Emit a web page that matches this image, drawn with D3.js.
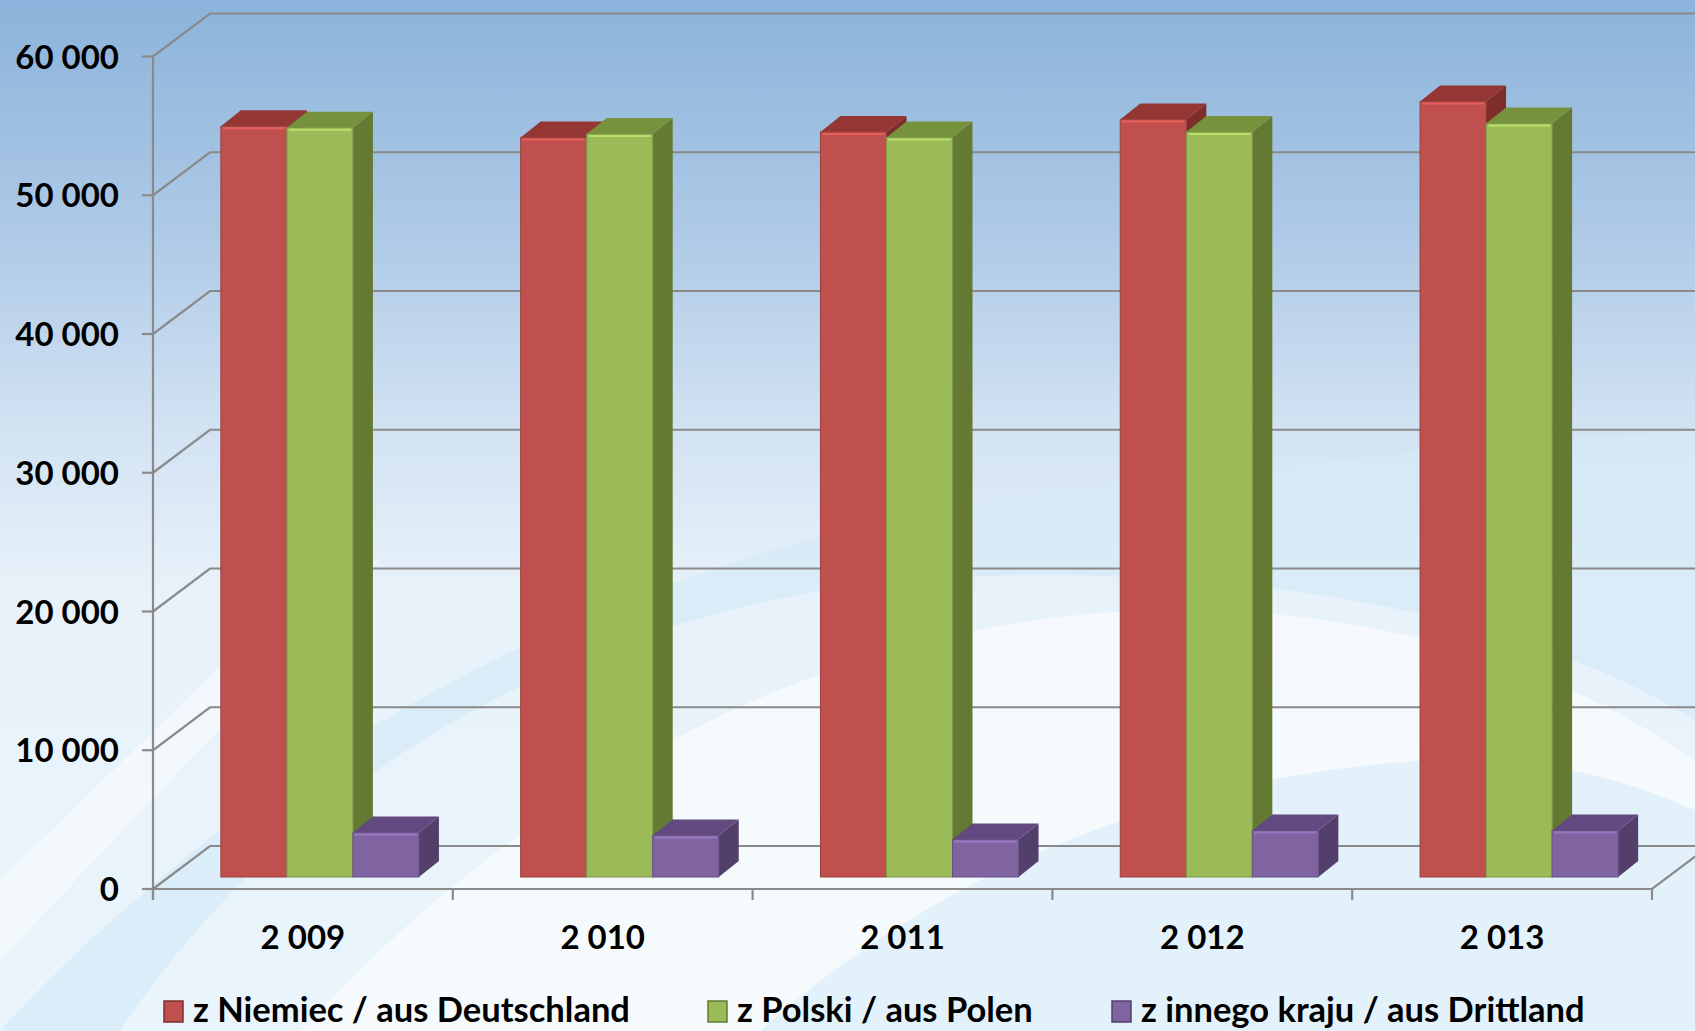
<!DOCTYPE html>
<html>
    <script src="https://d3js.org/d3.v7.min.js">
    </script>
    <style>
        body {margin: 0; overflow: hidden;}
        text {font-family: Lato, "Open Sans", sans-serif; font-weight: bold; fill: #000;}
    </style>
    <body onload="init()">
        <div id="chart_div">
        </div>

        <script>
            // values
            var years = [2009, 2010, 2011, 2012, 2013];
            var seriesNames = ["z Niemiec / aus Deutschland", "z Polski / aus Polen", "z innego kraju / aus Drittland"];
            var fromGermany = [54100, 53300, 53700, 54600, 55900];
            var fromPoland = [54000, 53550, 53300, 53700, 54300];
            var fromOther = [3200, 3000, 2700, 3350, 3350];
            var yTicks = [0, 10000, 20000, 30000, 40000, 50000, 60000];

            var width = 1695;
            var height = 1031;

            // front plane of the plot
            var plot = {left: 153, right: 1652, bottom: 889, top: 56.5};
            // depth of the walls and of the bars (3D look)
            var wall = {dx: 57, dy: -43};
            var barShift = {dx: 17, dy: -12};
            var barDepth = {dx: 20, dy: -16};

            var faces = [
                {front: "#c0504d", top: "#943634", side: "#7f2d2b"},
                {front: "#9bbb59", top: "#77923c", side: "#647a32"},
                {front: "#8064a2", top: "#62497f", side: "#52406b"}
            ];

            var locale = d3.formatLocale({decimal: ",", thousands: " ", grouping: [3], currency: ["", ""]});
            var fmt = locale.format(",");

            function init()
            {
                let svg = d3.select("#chart_div").append("svg")
                    .attr("width", width)
                    .attr("height", height);

                drawBackground(svg);

                let series = [fromGermany, fromPoland, fromOther];

                let x_scale = d3.scaleBand()
                    .domain(years)
                    .range([plot.left, plot.right]);

                let x_inner = d3.scaleBand()
                    .domain(d3.range(seriesNames.length))
                    .range([0, x_scale.bandwidth()])
                    .paddingInner(0)
                    .paddingOuter(0.77);

                let y_scale = d3.scaleLinear()
                    .domain([0, 60000])
                    .range([plot.bottom, plot.top]);

                // gridlines: side wall diagonal + back wall line
                let grid = svg.append("g")
                    .attr("stroke", "#8a8a8a")
                    .attr("stroke-width", 2.2)
                    .attr("fill", "none");

                grid.selectAll(".back").data(yTicks).enter().append("path")
                    .attr("d", function(d){
                        let y = y_scale(d);
                        return "M" + plot.left + "," + y + "L" + (plot.left + wall.dx) + "," + (y + wall.dy) + "H" + width;
                    });

                // y axis line and ticks
                grid.append("line")
                    .attr("x1", plot.left).attr("x2", plot.left)
                    .attr("y1", y_scale(60000)).attr("y2", y_scale(0) + 11);
                grid.selectAll(".ytick").data(yTicks).enter().append("line")
                    .attr("x1", plot.left - 11).attr("x2", plot.left)
                    .attr("y1", function(d){ return y_scale(d); })
                    .attr("y2", function(d){ return y_scale(d); });

                // floor front edge and right side
                grid.append("path")
                    .attr("d", "M" + plot.left + "," + y_scale(0) + "H" + plot.right + "l" + wall.dx + "," + wall.dy);

                let boundaries = years.map(function(d){ return x_scale(d); }).concat([plot.right]);
                grid.selectAll(".xtick").data(boundaries).enter().append("line")
                    .attr("x1", function(d){ return d; }).attr("x2", function(d){ return d; })
                    .attr("y1", y_scale(0)).attr("y2", y_scale(0) + 11);

                svg.append("g").selectAll("text").data(yTicks).enter().append("text")
                    .attr("x", 119)
                    .attr("y", function(d){ return y_scale(d) + 12; })
                    .attr("text-anchor", "end")
                    .attr("font-size", 33)
                    .text(function(d){ return fmt(d); });

                svg.append("g").selectAll("text").data(years).enter().append("text")
                    .attr("x", function(d){ return x_scale(d) + x_scale.bandwidth() / 2; })
                    .attr("y", 949)
                    .attr("text-anchor", "middle")
                    .attr("font-size", 33)
                    .text(function(d){ return fmt(d); });

                // bars
                let bars = svg.append("g");
                years.forEach(function(year, i)
                {
                    series.forEach(function(values, s)
                    {
                        let x = x_scale(year) + x_inner(s) + barShift.dx;
                        let w = x_inner.bandwidth();
                        let y0 = y_scale(0) + barShift.dy;
                        let y1 = y_scale(values[i]) + barShift.dy;
                        drawBar(bars, x, w, y0, y1, faces[s]);
                    });
                });

                // legend
                let legendX = [164, 708, 1112];
                let legend = svg.append("g").selectAll("g").data(seriesNames).enter().append("g")
                    .attr("transform", function(d, i){ return "translate(" + legendX[i] + ",1001)"; });
                legend.append("rect")
                    .attr("width", 19).attr("height", 21)
                    .attr("fill", function(d, i){ return faces[i].front; })
                    .attr("stroke", function(d, i){ return faces[i].side; })
                    .attr("stroke-width", 1.5);
                legend.append("text")
                    .attr("x", 29).attr("y", 21)
                    .attr("font-size", 34.5)
                    .text(function(d){ return d; });
            }

            function drawBar(g, x, w, y0, y1, c)
            {
                let dx = barDepth.dx, dy = barDepth.dy;
                let b = g.append("g");
                // right side
                b.append("path")
                    .attr("fill", c.side)
                    .attr("d", "M" + (x + w) + "," + y1 + "l" + dx + "," + dy + "V" + (y0 + dy) + "l" + (-dx) + "," + (-dy) + "Z");
                // top
                b.append("path")
                    .attr("fill", c.top)
                    .attr("d", "M" + x + "," + y1 + "l" + dx + "," + dy + "h" + w + "l" + (-dx) + "," + (-dy) + "Z");
                // front
                b.append("rect")
                    .attr("x", x).attr("y", y1)
                    .attr("width", w).attr("height", y0 - y1)
                    .attr("fill", c.front)
                    .attr("stroke", d3.color(c.front).darker(0.6))
                    .attr("stroke-width", 1);
                // soft highlight along the top edge
                b.append("line")
                    .attr("x1", x + 2).attr("x2", x + w - 2)
                    .attr("y1", y1 + 2).attr("y2", y1 + 2)
                    .attr("stroke", d3.color(c.front).brighter(0.5))
                    .attr("stroke-width", 2);
            }

            function drawBackground(svg)
            {
                let defs = svg.append("defs");
                let grad = defs.append("linearGradient")
                    .attr("id", "bg").attr("x1", 0).attr("y1", 0).attr("x2", 0).attr("y2", 1);
                grad.append("stop").attr("offset", "0%").attr("stop-color", "#8cb3db");
                grad.append("stop").attr("offset", "22%").attr("stop-color", "#adc9e6");
                grad.append("stop").attr("offset", "42%").attr("stop-color", "#d3e3f3");
                grad.append("stop").attr("offset", "58%").attr("stop-color", "#e8f2fa");
                grad.append("stop").attr("offset", "100%").attr("stop-color", "#eaf4fb");

                svg.append("rect")
                    .attr("width", width).attr("height", height)
                    .attr("fill", "url(#bg)");

                // light blue swoosh
                svg.append("path")
                    .attr("fill", "#d4e9f7")
                    .attr("opacity", 0.7)
                    .attr("d", "M0,1031 C250,760 600,560 1000,500 C1300,460 1550,440 1695,430 V720 C1500,600 1200,560 900,580 C600,610 300,760 120,1031 Z");

                // white swoosh below it
                svg.append("path")
                    .attr("fill", "#ffffff")
                    .attr("opacity", 0.55)
                    .attr("d", "M300,1031 C550,760 850,620 1150,610 C1400,605 1580,680 1695,760 V1031 Z");

                svg.append("path")
                    .attr("fill", "#dcedf9")
                    .attr("opacity", 0.7)
                    .attr("d", "M760,1031 C950,860 1200,770 1440,760 C1560,755 1650,790 1695,810 V1031 Z");

                // pale diagonal streak on the left
                svg.append("path")
                    .attr("fill", "#ffffff")
                    .attr("opacity", 0.4)
                    .attr("d", "M0,880 L330,560 L380,560 L0,960 Z");
            }
        </script>
    </body>
</html>
